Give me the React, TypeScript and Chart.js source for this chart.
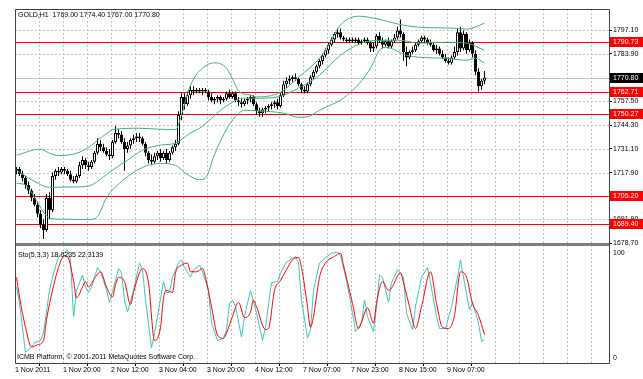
import React, { useEffect, useRef } from 'react';
import { Chart, registerables } from 'chart.js';

Chart.register(...registerables);

const FONT = '"Liberation Sans", Arial, sans-serif';

// ---- Data (H1 bars, index 0 = 1 Nov 2011 first bar) ----
const timeLabels = ['1 Nov 2011', '1 Nov 20:00', '2 Nov 12:00', '3 Nov 04:00', '3 Nov 20:00', '4 Nov 12:00', '7 Nov 07:00', '7 Nov 23:00', '8 Nov 15:00', '9 Nov 07:00'];

const opens = [
  1719, 1720, 1717, 1715, 1711, 1708, 1704, 1700, 1695, 1689,
  1686, 1704, 1697, 1716, 1719, 1718, 1720, 1719, 1717, 1714,
  1713, 1716, 1722, 1725, 1722, 1721, 1724, 1729, 1734, 1732,
  1730, 1728, 1727, 1735, 1740, 1739, 1735, 1731, 1733, 1736,
  1737, 1738, 1737, 1734, 1729, 1725, 1724, 1727, 1729, 1726,
  1729, 1725, 1729, 1732, 1734, 1750, 1760, 1756, 1761, 1764,
  1763, 1764, 1763, 1764, 1763, 1760, 1758, 1759, 1760, 1758,
  1759, 1762, 1760, 1762, 1758, 1757, 1756, 1758, 1759, 1760,
  1756, 1752, 1751, 1753, 1754, 1755, 1756, 1757, 1755, 1761,
  1767, 1769, 1770, 1771, 1770, 1767, 1764, 1763, 1767, 1771,
  1774, 1777, 1780, 1783, 1786, 1789, 1792, 1795, 1796, 1793,
  1792, 1791, 1792, 1791, 1792, 1790, 1791, 1792, 1790, 1787,
  1788, 1794, 1791, 1789, 1791, 1788, 1791, 1793, 1797, 1795,
  1785, 1782, 1785, 1786, 1789, 1791, 1793, 1792, 1790, 1789,
  1786, 1787, 1784, 1782, 1780, 1779, 1782, 1785, 1796, 1787,
  1795, 1786, 1790, 1784, 1774, 1766, 1769,
];
const highs = [
  1721, 1721, 1719, 1716, 1713, 1709, 1706, 1702, 1697, 1692,
  1706, 1707, 1718, 1720, 1721, 1721, 1721, 1720, 1719, 1716,
  1717, 1724, 1727, 1726, 1724, 1725, 1730, 1737, 1736, 1734,
  1732, 1731, 1736, 1744, 1742, 1741, 1737, 1735, 1737, 1739,
  1740, 1740, 1738, 1735, 1730, 1728, 1729, 1730, 1731, 1730,
  1731, 1730, 1733, 1736, 1752, 1762, 1762, 1763, 1766, 1766,
  1765, 1765, 1765, 1765, 1764, 1762, 1760, 1761, 1761, 1760,
  1763, 1764, 1763, 1763, 1760, 1759, 1759, 1760, 1761, 1761,
  1757, 1754, 1754, 1755, 1756, 1757, 1758, 1759, 1762, 1769,
  1771, 1772, 1772, 1773, 1771, 1768, 1766, 1768, 1772, 1775,
  1778, 1781, 1784, 1787, 1790, 1793, 1796, 1798, 1798, 1794,
  1793, 1793, 1793, 1793, 1793, 1792, 1793, 1793, 1791, 1790,
  1795, 1796, 1793, 1792, 1793, 1792, 1795, 1799, 1803, 1796,
  1788, 1786, 1788, 1790, 1792, 1794, 1794, 1793, 1792, 1790,
  1789, 1788, 1786, 1784, 1782, 1783, 1788, 1798, 1799, 1797,
  1796, 1792, 1791, 1786, 1776, 1770, 1774.4,
];
const lows = [
  1717, 1716, 1713, 1709, 1706, 1702, 1699, 1693, 1687, 1681,
  1685, 1692, 1696, 1714, 1716, 1717, 1717, 1716, 1713, 1712,
  1712, 1715, 1720, 1720, 1719, 1720, 1723, 1728, 1730, 1729,
  1727, 1725, 1726, 1734, 1737, 1734, 1719, 1729, 1731, 1734,
  1735, 1735, 1733, 1727, 1723, 1722, 1723, 1725, 1724, 1725,
  1723, 1724, 1728, 1730, 1733, 1747, 1753, 1755, 1759, 1761,
  1762, 1762, 1761, 1762, 1758, 1757, 1756, 1757, 1756, 1757,
  1758, 1759, 1759, 1757, 1755, 1754, 1755, 1756, 1757, 1755,
  1750, 1749, 1749, 1751, 1752, 1753, 1754, 1753, 1754, 1760,
  1765, 1767, 1768, 1769, 1766, 1762, 1762, 1762, 1766, 1770,
  1773, 1776, 1778, 1782, 1784, 1788, 1790, 1793, 1792, 1791,
  1790, 1790, 1790, 1790, 1789, 1789, 1790, 1789, 1785, 1785,
  1787, 1790, 1787, 1788, 1787, 1787, 1790, 1792, 1793, 1780,
  1777, 1781, 1784, 1785, 1788, 1790, 1790, 1789, 1788, 1785,
  1784, 1783, 1781, 1779, 1778, 1778, 1781, 1783, 1785, 1786,
  1784, 1785, 1782, 1772, 1763, 1764, 1767,
];
const closes = [
  1720, 1717, 1715, 1711, 1708, 1704, 1700, 1695, 1689, 1686,
  1704, 1697, 1716, 1719, 1718, 1720, 1719, 1717, 1714, 1713,
  1716, 1722, 1725, 1722, 1721, 1724, 1729, 1734, 1732, 1730,
  1728, 1727, 1735, 1740, 1739, 1735, 1731, 1733, 1736, 1737,
  1738, 1737, 1734, 1729, 1725, 1724, 1727, 1729, 1726, 1729,
  1725, 1729, 1732, 1734, 1750, 1760, 1756, 1761, 1764, 1763,
  1764, 1763, 1764, 1763, 1760, 1758, 1759, 1760, 1758, 1759,
  1762, 1760, 1762, 1758, 1757, 1756, 1758, 1759, 1760, 1756,
  1752, 1751, 1753, 1754, 1755, 1756, 1757, 1755, 1761, 1767,
  1769, 1770, 1771, 1770, 1767, 1764, 1763, 1767, 1771, 1774,
  1777, 1780, 1783, 1786, 1789, 1792, 1795, 1796, 1793, 1792,
  1791, 1792, 1791, 1792, 1790, 1791, 1792, 1790, 1787, 1788,
  1794, 1791, 1789, 1791, 1788, 1791, 1793, 1797, 1795, 1785,
  1782, 1785, 1786, 1789, 1791, 1793, 1792, 1790, 1789, 1786,
  1787, 1784, 1782, 1780, 1779, 1782, 1785, 1796, 1787, 1795,
  1786, 1790, 1784, 1774, 1766, 1769, 1770.8,
];

// Bollinger bands, read as [bar index, price]
const bbUpper = [
  [0, 1727.6], [8, 1731.0], [11, 1728.7], [14, 1727.4], [20, 1728.7], [24, 1732], [28, 1737.1], [33, 1742.1],
  [41, 1742.6], [48, 1742], [53, 1741.8], [55, 1750], [57, 1762], [59, 1770], [62, 1776], [66, 1779],
  [70, 1776], [72, 1770], [74, 1763.5], [78, 1761], [80, 1760], [88, 1762.6], [94, 1771], [101, 1781.5],
  [104, 1788.8], [108, 1800], [114, 1804.9], [119, 1803.8], [129, 1799.9], [134, 1798.8], [146, 1798.2],
  [150, 1797.7], [156, 1801],
];
const bbMiddle = [
  [0, 1719.3], [5, 1714], [11, 1709.8], [20, 1710], [24, 1710.5], [27, 1713], [31, 1718.2], [37, 1724.8],
  [42, 1730.4], [48, 1733.2], [53, 1734.3], [58, 1740], [61, 1742.6], [65, 1748], [68, 1752.6], [72, 1757],
  [75, 1759.3], [81, 1759.3], [88, 1760.4], [94, 1764.9], [101, 1772.1], [108, 1783.2], [115, 1789.9],
  [121, 1791.5], [128, 1791.5], [134, 1789.9], [143, 1790.4], [150, 1789.9], [156, 1786],
];
const bbLower = [
  [0, 1712], [3, 1711], [6, 1704.3], [9, 1696], [11, 1692.6], [16, 1692], [24, 1691.8], [27, 1693.5],
  [30, 1704], [35, 1713], [39, 1718], [43, 1721.5], [48, 1723], [53, 1722], [56, 1718], [61, 1714],
  [63, 1715], [66, 1728], [70, 1742], [73, 1749], [76, 1752.6], [80, 1752.3], [89, 1751], [94, 1748.7],
  [97, 1749], [101, 1752.6], [104, 1755], [108, 1758.2], [112, 1763.7], [115, 1769], [118, 1776],
  [121, 1786], [123, 1787.6], [130, 1783.2], [134, 1782.1], [143, 1781.5], [150, 1780.4], [153, 1781.5],
  [156, 1778.8],
];

// Stochastic (5,3,3), [bar index, value]
const stochMain = [
  [0, 66], [1, 51], [3, 6], [5, 11], [6, 15], [8, 17], [9, 24], [11, 63], [12, 75], [14, 94], [16, 98], [17, 100],
  [18, 91], [19, 39], [20, 63], [22, 77], [23, 66], [24, 61], [25, 66], [27, 84], [28, 80], [29, 72], [30, 63],
  [31, 52], [33, 72], [34, 83], [35, 79], [36, 54], [37, 43], [39, 63], [41, 88], [42, 82], [43, 54], [45, 10],
  [46, 24], [47, 39], [49, 71], [50, 61], [51, 61], [52, 75], [54, 88], [55, 91], [56, 84], [58, 75], [59, 82],
  [61, 86], [62, 80], [64, 63], [65, 33], [67, 17], [69, 19], [70, 27], [71, 51], [72, 54], [73, 48], [75, 20],
  [76, 39], [78, 63], [80, 42], [82, 17], [83, 29], [85, 70], [87, 71], [88, 79], [90, 89], [93, 94], [94, 88],
  [95, 54], [97, 19], [98, 27], [99, 63], [101, 88], [103, 93], [105, 97], [107, 98], [108, 95], [110, 72],
  [112, 42], [113, 25], [115, 33], [116, 54], [117, 39], [119, 25], [120, 48], [121, 77], [122, 75], [124, 52],
  [125, 70], [127, 82], [129, 75], [130, 42], [132, 27], [133, 48], [135, 75], [137, 84], [138, 70], [140, 39],
  [141, 28], [143, 28], [145, 48], [147, 75], [148, 91], [149, 75], [151, 45], [152, 52], [154, 33], [155, 16],
  [156, 18.02],
];
const stochSignal = [
  [0, 75], [1, 57], [3, 29], [5, 11], [7, 13], [9, 17], [10, 36], [12, 63], [14, 84], [16, 95], [17, 94],
  [19, 72], [20, 56], [22, 66], [23, 71], [24, 66], [26, 74], [28, 80], [30, 66], [32, 57], [33, 68], [34, 75],
  [36, 71], [38, 50], [39, 61], [41, 79], [42, 83], [44, 70], [46, 17], [48, 29], [49, 56], [50, 63], [52, 61],
  [53, 79], [55, 86], [57, 88], [58, 80], [60, 80], [62, 83], [63, 75], [65, 48], [67, 22], [69, 19], [70, 24],
  [72, 39], [74, 52], [76, 38], [78, 43], [79, 54], [80, 48], [83, 27], [84, 28], [86, 63], [88, 72], [90, 82],
  [92, 91], [94, 93], [95, 84], [97, 48], [98, 29], [99, 39], [101, 75], [103, 88], [106, 94], [108, 97],
  [109, 86], [112, 51], [114, 28], [115, 34], [117, 47], [119, 33], [120, 51], [122, 71], [124, 63], [125, 65],
  [128, 79], [129, 70], [131, 48], [133, 28], [135, 48], [138, 80], [140, 51], [142, 29], [144, 28], [146, 40],
  [148, 80], [150, 75], [152, 51], [154, 40], [156, 22.31],
];

const priceTicks = [1678.7, 1691.9, 1705.1, 1717.9, 1731.1, 1744.3, 1757.5, 1770.7, 1783.9, 1797.1];
const stochTicks = [0, 100];
const levelLines = [1790.73, 1762.71, 1750.27, 1705.2, 1689.4];
const currentPrice = 1770.8;
const headerText = 'GOLD,H1  1769.00 1774.40 1767.00 1770.80';
const stochText = 'Sto(5,3,3) 18.0235 22.3139';
const footerText = 'ICMB Platform, \u00A9 2001-2011 MetaQuotes Software Corp.';

const totalSlots = 198;
const labelStep = 16;
const gridStep = 8;

const hline = (ctx: any, x0: number, x1: number, y: number) => {
  ctx.beginPath();
  ctx.moveTo(x0, y);
  ctx.lineTo(x1, y);
  ctx.stroke();
};

const decorPlugin = {
  id: 'mtDecor',
  beforeDatasetsDraw(chart: any) {
    const { ctx, chartArea: ca, scales } = chart;
    const xs = scales.x;
    const ys = scales.y;
    ctx.save();
    ctx.lineWidth = 1;
    ctx.strokeStyle = '#c4c4c4';
    ctx.setLineDash([2, 2]);
    for (let b = gridStep; b < totalSlots; b += gridStep) {
      const px = Math.round(xs.getPixelForValue(b - 0.5)) + 0.5;
      ctx.beginPath();
      ctx.moveTo(px, ca.top);
      ctx.lineTo(px, ca.bottom);
      ctx.stroke();
    }
    for (const t of priceTicks) {
      hline(ctx, ca.left, ca.right, Math.round(ys.getPixelForValue(t)) + 0.5);
    }
    ctx.setLineDash([]);
    ctx.strokeStyle = '#c0c0c0';
    hline(ctx, ca.left, ca.right, Math.round(ys.getPixelForValue(currentPrice)) + 0.5);
    ctx.strokeStyle = '#ff0000';
    for (const lv of levelLines) {
      hline(ctx, ca.left, ca.right, Math.round(ys.getPixelForValue(lv)) + 0.5);
    }
    ctx.restore();
  },
  afterDraw(chart: any) {
    const { ctx, chartArea: ca, scales } = chart;
    const ys = scales.y;
    const s2 = scales.y2;
    const W = chart.width;
    ctx.save();
    // panel separator
    ctx.fillStyle = '#808080';
    ctx.fillRect(ca.left, Math.round(ys.bottom) - 1, ca.right - ca.left + 1, 3);
    // frame
    ctx.strokeStyle = '#404040';
    ctx.lineWidth = 1;
    ctx.beginPath();
    ctx.moveTo(ca.left + 0.5, ca.top + 0.5);
    ctx.lineTo(ca.right + 0.5, ca.top + 0.5);
    ctx.lineTo(ca.right + 0.5, ca.bottom + 0.5);
    ctx.lineTo(ca.left + 0.5, ca.bottom + 0.5);
    ctx.closePath();
    ctx.stroke();
    ctx.font = `7px ${FONT}`;
    ctx.textBaseline = 'middle';
    ctx.textAlign = 'left';
    // stochastic scale labels
    ctx.fillStyle = '#000000';
    ctx.fillText(String(stochTicks[1]), ca.right + 4, s2.getPixelForValue(stochTicks[1]) + 3);
    ctx.fillText(String(stochTicks[0]), ca.right + 4, s2.getPixelForValue(stochTicks[0]) - 1);
    // level labels
    const box = (v: number, bg: string) => {
      const py = Math.round(ys.getPixelForValue(v));
      ctx.fillStyle = bg;
      ctx.fillRect(ca.right + 1, py - 5, W - ca.right - 1, 10);
      ctx.fillStyle = '#ffffff';
      ctx.fillText(v.toFixed(2), ca.right + 4, py);
    };
    for (const lv of levelLines) box(lv, '#ff0000');
    box(currentPrice, '#000000');
    // texts
    ctx.fillStyle = '#000000';
    ctx.fillText(headerText, ca.left + 3, ca.top + 6);
    ctx.fillText(stochText, ca.left + 3, s2.top + 11);
    ctx.fillText(footerText, ca.left + 2, ca.bottom - 6);
    ctx.restore();
  },
};

export default function App() {
  const ref = useRef<HTMLCanvasElement>(null);
  useEffect(() => {
    const canvas = ref.current as HTMLCanvasElement;
    const pts = (a: number[][]) => a.map(([x, y]) => ({ x, y }));
    const wickData = highs.map((h, i) => ({ x: i, y: [lows[i], h] }));
    const bodyData = opens.map((o, i) => ({ x: i, y: [o, closes[i]] }));
    const isBull = (i: number) => closes[i] >= opens[i];
    const tickFont = { family: FONT, size: 7 };
    const band = (d: number[][]) => ({
      type: 'line', data: pts(d), yAxisID: 'y', order: 2, borderColor: '#3cb371',
      borderWidth: 1, pointRadius: 0, cubicInterpolationMode: 'monotone',
    });
    const chart = new Chart(canvas, {
      type: 'bar',
      data: {
        datasets: [
          {
            type: 'bar', data: wickData, yAxisID: 'y', grouped: false, order: 5,
            barThickness: 1, backgroundColor: '#000000', borderWidth: 0, inflateAmount: 0, minBarLength: 1,
          },
          {
            type: 'bar', data: bodyData, yAxisID: 'y', grouped: false, order: 4,
            barThickness: 3, minBarLength: 1, inflateAmount: 0,
            backgroundColor: (c: any) => (isBull(c.dataIndex) ? '#ffffff' : '#000000'),
            borderColor: '#000000', borderWidth: 1, borderSkipped: false,
          },
          band(bbUpper),
          band(bbMiddle),
          band(bbLower),
          {
            type: 'line', data: pts(stochMain), yAxisID: 'y2', order: 1, borderColor: '#3cc4bc',
            borderWidth: 1, pointRadius: 0, tension: 0,
          },
          {
            type: 'line', data: pts(stochSignal), yAxisID: 'y2', order: 0, borderColor: '#ff0000',
            borderWidth: 1, pointRadius: 0, cubicInterpolationMode: 'monotone',
          },
        ] as any,
      },
      options: {
        responsive: false,
        animation: false,
        devicePixelRatio: 1,
        events: [],
        layout: { padding: { left: 15, top: 9, right: 0, bottom: 0 } },
        plugins: { legend: { display: false }, tooltip: { enabled: false }, title: { display: false } },
        scales: {
          x: {
            type: 'linear', min: -0.5, max: totalSlots - 0.5, offset: false,
            afterBuildTicks: (s: any) => { s.ticks = timeLabels.map((_, k) => ({ value: k * labelStep - 0.5 })); },
            afterFit: (s: any) => { s.height = 16; },
            ticks: {
              autoSkip: false, maxRotation: 0, minRotation: 0, align: 'start', padding: 0, color: '#000000',
              font: tickFont, callback: (_v: any, i: number) => timeLabels[i] ?? '',
            },
            grid: { display: true, drawOnChartArea: false, drawTicks: true, tickLength: 3, tickColor: '#000000' },
            border: { display: false },
          },
          y: {
            type: 'linear', position: 'right', stack: 'panes', stackWeight: 235,
            min: 1678.24, max: 1808.9,
            afterBuildTicks: (s: any) => { s.ticks = priceTicks.map((v) => ({ value: v })); },
            afterFit: (s: any) => { s.width = 34; },
            ticks: { autoSkip: false, padding: 1, color: '#000000', font: tickFont, callback: (v: any) => Number(v).toFixed(2) },
            grid: { display: true, drawOnChartArea: false, drawTicks: true, tickLength: 3, tickColor: '#000000' },
            border: { display: false },
          },
          y2: {
            type: 'linear', position: 'right', stack: 'panes', stackWeight: 119,
            min: -3.67, max: 105.5,
            afterBuildTicks: (s: any) => { s.ticks = stochTicks.map((v) => ({ value: v })); },
            afterFit: (s: any) => { s.width = 34; },
            ticks: { display: false },
            grid: { display: false },
            border: { display: false },
          },
        },
      } as any,
      plugins: [decorPlugin],
    });
    return () => chart.destroy();
  }, []);
  return (
    <div style={{ position: 'absolute', left: 0, top: 0, width: 643, height: 379, background: '#ffffff' }}>
      <canvas ref={ref} width={643} height={379} style={{ display: 'block', width: 643, height: 379 }} />
    </div>
  );
}
